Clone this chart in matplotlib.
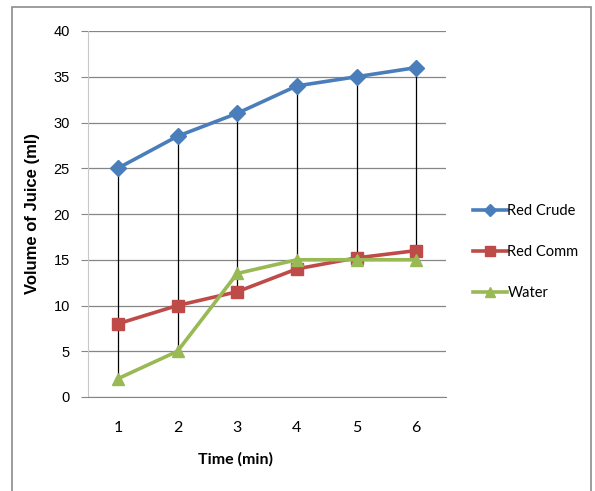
import matplotlib
matplotlib.use("Agg")
import matplotlib.pyplot as plt
from matplotlib.patches import Rectangle

times = [1, 2, 3, 4, 5, 6]
red_crude = [25, 28.5, 31, 34, 35, 36]
red_comm = [8, 10, 11.5, 14, 15.2, 16]
water = [2, 5, 13.5, 15, 15, 15]
series_names = ["Red Crude", "Red Comm", "Water"]

body_font = ["Lato", "DejaVu Sans"]

W, H = 595, 491
fig = plt.figure(figsize=(W / 100, H / 100), dpi=100)

# outer chart frame
fig.patches.append(Rectangle((12 / W, -0.05), (591 - 12) / W, (H - 7) / H + 0.05,
                             transform=fig.transFigure, fill=False,
                             edgecolor="#8c8c8c", linewidth=1.2))

ax = fig.add_axes([88 / W, 1 - 397 / H, (446 - 88) / W, (397 - 31) / H])

pos = list(range(len(times)))

# high-low lines between the top and bottom series
for i in pos:
    vals = [red_crude[i], red_comm[i], water[i]]
    ax.plot([i, i], [min(vals), max(vals)], color="black", linewidth=0.9, zorder=2)

ax.plot(pos, red_crude, color="#4A7EBB", linewidth=2.6, marker="D", markersize=8,
        label=series_names[0], zorder=3)
ax.plot(pos, red_comm, color="#BE4B48", linewidth=2.6, marker="s", markersize=9,
        label=series_names[1], zorder=3)
ax.plot(pos, water, color="#98B954", linewidth=2.6, marker="^", markersize=9,
        label=series_names[2], zorder=3)

ax.set_xlim(-0.5, len(times) - 0.5)
ax.set_ylim(0, 40)
ax.set_yticks(range(0, 41, 5))
ax.set_xticks(pos)
ax.set_xticklabels([str(t) for t in times], fontfamily=body_font, fontsize=11.5)
for lbl in ax.get_yticklabels():
    lbl.set_fontfamily("Liberation Sans")
    lbl.set_fontsize(10.5)

ax.grid(axis="y", color="#868686", linewidth=0.9)
ax.set_axisbelow(True)
for side in ["top", "right"]:
    ax.spines[side].set_visible(False)
ax.spines["left"].set_color("#c8c8c8")
ax.spines["bottom"].set_color("#868686")
ax.tick_params(axis="y", length=5, color="#868686", pad=8)
ax.tick_params(axis="x", length=0, pad=17)

fig.text(235 / W, 1 - 459 / H, "Time (min)", family=body_font, fontweight="bold",
         fontsize=11.5, ha="center", va="center")
fig.text(33 / W, 1 - 214 / H, "Volume of Juice (ml)", family="Liberation Sans",
         fontweight="bold", fontsize=12, rotation=90, ha="center", va="center")

fig.legend(loc="center left", bbox_to_anchor=(460 / W, 1 - 252 / H), frameon=False,
           prop={"family": body_font, "size": 10.5}, handlelength=2.3, handletextpad=0.05,
           labelspacing=1.85, markerscale=0.75)

fig.savefig("out.png", dpi=100)
